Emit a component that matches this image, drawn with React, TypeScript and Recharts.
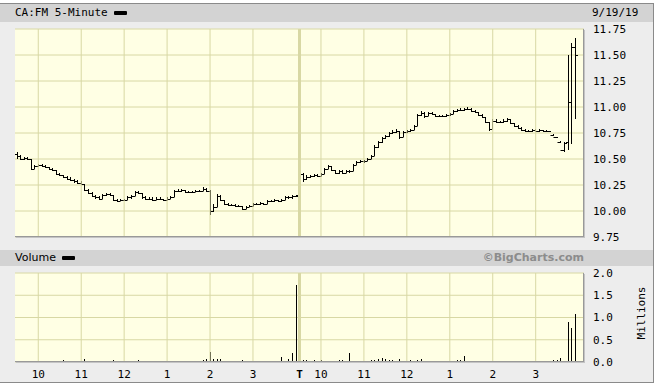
import { ComposedChart, BarChart, Bar, XAxis, YAxis, CartesianGrid, ReferenceLine } from 'recharts';

// colours / fonts
const GRID = '#d8d8a4';
const PLOT_BG = '#ffffe4';
const FRAME_BG = '#ededed';
const BAND_BG = '#d3d3d3';
const MONO = '"DejaVu Sans Mono", monospace';
const SANS = '"DejaVu Sans", sans-serif';

// 5-minute OHLC, two sessions (slots 0-78 = day 1 9:30-4:00, 79-157 = day 2)
const opens = [
  10.55, 10.53, 10.5, 10.51, 10.5, 10.4, 10.43, 10.44, 10.43, 10.42, 10.4, 10.39,
  10.36, 10.35, 10.33, 10.31, 10.3, 10.29, 10.27, 10.26, 10.2, 10.17, 10.14, 10.13,
  10.12, 10.15, 10.16, 10.15, 10.11, 10.1, 10.11, 10.11, 10.13, 10.14, 10.18, 10.17,
  10.13, 10.12, 10.12, 10.11, 10.12, 10.12, 10.11, 10.12, 10.13, 10.19, 10.19, 10.2,
  10.18, 10.18, 10.18, 10.19, 10.19, 10.21, 10.19, 10.0, 10.04, 10.14, 10.11, 10.07,
  10.06, 10.06, 10.05, 10.05, 10.02, 10.04, 10.05, 10.07, 10.07, 10.08, 10.07, 10.1,
  10.1, 10.11, 10.1, 10.11, 10.13, 10.13, 10.14,
  10.15, 10.36, 10.31, 10.33, 10.34, 10.35, 10.34, 10.36, 10.4, 10.43, 10.39, 10.37,
  10.38, 10.37, 10.38, 10.38, 10.44, 10.47, 10.48, 10.48, 10.5, 10.53, 10.62, 10.66,
  10.7, 10.72, 10.75, 10.76, 10.77, 10.71, 10.76, 10.77, 10.78, 10.82, 10.92, 10.94,
  10.91, 10.94, 10.93, 10.91, 10.91, 10.91, 10.92, 10.93, 10.96, 10.97, 10.97, 10.98,
  10.98, 10.96, 10.95, 10.92, 10.9, 10.86, 10.79, 10.87, 10.86, 10.86, 10.87, 10.88,
  10.85, 10.82, 10.8, 10.78, 10.77, 10.77, 10.78, 10.77, 10.78, 10.77, 10.77, 10.73,
  10.71, 10.66, 10.59, 10.66, 11.05, 11.58,
];
const highs = [
  10.57, 10.54, 10.52, 10.52, 10.5, 10.44, 10.45, 10.45, 10.44, 10.42, 10.41, 10.39,
  10.37, 10.35, 10.34, 10.33, 10.31, 10.3, 10.29, 10.26, 10.21, 10.18, 10.15, 10.14,
  10.16, 10.17, 10.17, 10.15, 10.12, 10.12, 10.12, 10.14, 10.15, 10.19, 10.19, 10.17,
  10.14, 10.13, 10.13, 10.13, 10.13, 10.12, 10.13, 10.14, 10.2, 10.21, 10.21, 10.2,
  10.19, 10.19, 10.2, 10.2, 10.23, 10.22, 10.2, 10.07, 10.16, 10.15, 10.11, 10.08,
  10.07, 10.07, 10.06, 10.05, 10.05, 10.06, 10.08, 10.08, 10.09, 10.08, 10.11, 10.11,
  10.12, 10.11, 10.12, 10.14, 10.14, 10.15, 10.15,
  10.39, 10.37, 10.35, 10.35, 10.36, 10.36, 10.37, 10.41, 10.44, 10.43, 10.39, 10.39,
  10.39, 10.39, 10.39, 10.45, 10.48, 10.49, 10.49, 10.51, 10.54, 10.63, 10.67, 10.71,
  10.73, 10.76, 10.78, 10.79, 10.77, 10.77, 10.78, 10.79, 10.83, 10.93, 10.96, 10.95,
  10.95, 10.95, 10.93, 10.92, 10.92, 10.93, 10.94, 10.97, 10.98, 10.99, 10.99, 11.0,
  10.99, 10.97, 10.95, 10.93, 10.9, 10.86, 10.88, 10.88, 10.87, 10.88, 10.89, 10.88,
  10.85, 10.83, 10.81, 10.79, 10.78, 10.79, 10.79, 10.79, 10.78, 10.78, 10.77, 10.74,
  10.71, 10.67, 10.66, 11.5, 11.62, 11.66,
];
const lows = [
  10.5, 10.49, 10.49, 10.49, 10.39, 10.4, 10.42, 10.42, 10.41, 10.39, 10.38, 10.35,
  10.34, 10.32, 10.3, 10.29, 10.27, 10.26, 10.25, 10.19, 10.16, 10.13, 10.12, 10.11,
  10.12, 10.14, 10.14, 10.1, 10.09, 10.1, 10.1, 10.11, 10.12, 10.14, 10.16, 10.12,
  10.11, 10.11, 10.1, 10.11, 10.11, 10.1, 10.11, 10.12, 10.13, 10.18, 10.18, 10.17,
  10.17, 10.17, 10.18, 10.18, 10.19, 10.18, 9.96, 9.99, 10.04, 10.1, 10.06, 10.05,
  10.05, 10.04, 10.04, 10.01, 10.02, 10.04, 10.05, 10.06, 10.06, 10.06, 10.07, 10.09,
  10.09, 10.09, 10.09, 10.11, 10.12, 10.12, 10.13,
  10.14, 10.28, 10.3, 10.32, 10.33, 10.33, 10.34, 10.36, 10.4, 10.38, 10.36, 10.36,
  10.36, 10.37, 10.37, 10.38, 10.44, 10.46, 10.46, 10.48, 10.5, 10.53, 10.61, 10.65,
  10.69, 10.71, 10.74, 10.75, 10.69, 10.71, 10.75, 10.76, 10.78, 10.82, 10.91, 10.89,
  10.91, 10.92, 10.9, 10.9, 10.9, 10.9, 10.91, 10.93, 10.95, 10.96, 10.96, 10.97,
  10.95, 10.94, 10.91, 10.89, 10.85, 10.77, 10.79, 10.85, 10.85, 10.85, 10.86, 10.84,
  10.81, 10.79, 10.77, 10.76, 10.76, 10.76, 10.76, 10.76, 10.76, 10.76, 10.76, 10.72,
  10.7, 10.65, 10.57, 10.59, 10.64, 10.88, 11.42,
];
const closes = [
  10.53, 10.5, 10.51, 10.5, 10.4, 10.43, 10.44, 10.43, 10.42, 10.4, 10.39, 10.36,
  10.35, 10.33, 10.31, 10.3, 10.29, 10.27, 10.26, 10.2, 10.17, 10.14, 10.13, 10.12,
  10.15, 10.16, 10.15, 10.11, 10.1, 10.11, 10.11, 10.13, 10.14, 10.18, 10.17, 10.13,
  10.12, 10.12, 10.11, 10.12, 10.12, 10.11, 10.12, 10.13, 10.19, 10.19, 10.2, 10.18,
  10.18, 10.18, 10.19, 10.19, 10.21, 10.19, 10.0, 10.04, 10.14, 10.11, 10.07, 10.06,
  10.06, 10.05, 10.05, 10.02, 10.04, 10.05, 10.07, 10.07, 10.08, 10.07, 10.1, 10.1,
  10.11, 10.1, 10.11, 10.13, 10.13, 10.14, 10.14,
  10.36, 10.31, 10.33, 10.34, 10.35, 10.34, 10.36, 10.4, 10.43, 10.39, 10.37, 10.38,
  10.37, 10.38, 10.38, 10.44, 10.47, 10.48, 10.48, 10.5, 10.53, 10.62, 10.66, 10.7,
  10.72, 10.75, 10.76, 10.77, 10.71, 10.76, 10.77, 10.78, 10.82, 10.92, 10.94, 10.91,
  10.94, 10.93, 10.91, 10.91, 10.91, 10.92, 10.93, 10.96, 10.97, 10.97, 10.98, 10.98,
  10.96, 10.95, 10.92, 10.9, 10.86, 10.79, 10.87, 10.86, 10.86, 10.87, 10.88, 10.85,
  10.82, 10.8, 10.78, 10.77, 10.77, 10.78, 10.77, 10.78, 10.77, 10.77, 10.73, 10.71,
  10.66, 10.59, 10.65, 11.05, 11.58, 11.5,
];
// volume in millions
const volumes = [
  0, 0, 0, 0, 0.03, 0.02, 0.03, 0, 0, 0.03, 0, 0,
  0, 0.04, 0, 0, 0.03, 0, 0, 0.06, 0.03, 0.02, 0.02, 0,
  0, 0, 0, 0.05, 0, 0, 0.03, 0, 0, 0, 0.05, 0,
  0, 0, 0, 0, 0, 0, 0, 0.03, 0, 0, 0, 0,
  0, 0.03, 0, 0, 0.04, 0.07, 0.23, 0.06, 0.07, 0.07, 0, 0.03,
  0.03, 0, 0, 0.05, 0.03, 0, 0.03, 0, 0.03, 0.02, 0.03, 0,
  0.03, 0, 0.12, 0, 0.06, 0.2, 1.73,
  0.08, 0.05, 0.04, 0.03, 0.04, 0, 0.05, 0.03, 0.03, 0.03, 0, 0.04,
  0.04, 0, 0.21, 0.03, 0, 0, 0, 0.03, 0.04, 0.05, 0.07, 0.08,
  0.06, 0.04, 0.05, 0.03, 0.06, 0.03, 0, 0.04, 0, 0.05, 0.06, 0.03,
  0.03, 0.03, 0.03, 0.03, 0.03, 0, 0, 0, 0.04, 0.05, 0.13, 0.03,
  0.02, 0.03, 0.02, 0.03, 0.02, 0, 0, 0, 0, 0, 0, 0.02,
  0, 0, 0.02, 0, 0, 0, 0, 0, 0, 0, 0.03, 0.04,
  0.04, 0.1, 0, 0.91, 0.76, 1.08, 0, 0,
];

const hourSlots = [6, 18, 30, 42, 54, 66, 79, 85, 97, 109, 121, 133, 145];
const hourLabels = ['10', '11', '12', '1', '2', '3', 'T', '10', '11', '12', '1', '2', '3'];
const priceTicks = [9.75, 10, 10.25, 10.5, 10.75, 11, 11.25, 11.5, 11.75];
const volumeTicks = [0, 0.5, 1, 1.5, 2];
const DAY_BREAK = 79;

const rows = volumes.map((v, i) => ({
  slot: i,
  open: opens[i] ?? null,
  high: highs[i] ?? null,
  low: lows[i] ?? null,
  close: closes[i] ?? null,
  volume: v,
}));

const OhlcBar = (props: any) => {
  const { x, y, width, height, payload } = props;
  if (!payload || payload.high == null) return <g />;
  const top = Math.min(y, y + height);
  const h = Math.abs(height);
  const cx = Math.round(x + width / 2) + 0.5;
  const span = payload.high - payload.low;
  const py = (v: number) => Math.round(span > 0 ? top + ((payload.high - v) / span) * h : top) + 0.5;
  return (
    <g stroke="#000" strokeWidth={1}>
      <line x1={cx} x2={cx} y1={Math.round(top)} y2={Math.round(top + Math.max(h, 1))} />
      <line x1={cx - 2.5} x2={cx} y1={py(payload.open)} y2={py(payload.open)} />
      <line x1={cx} x2={cx + 2.5} y1={py(payload.close)} y2={py(payload.close)} />
    </g>
  );
};

const VolumeBar = (props: any) => {
  const { x, y, width, height } = props;
  if (!height || height <= 0) return <g />;
  const cx = Math.round(x + width / 2);
  const top = Math.round(y);
  return <rect x={cx} y={top} width={1} height={Math.max(1, Math.round(y + height) - top)} fill="#000" />;
};

const HourTick = (props: any) => {
  const { x, y, payload } = props;
  const label = hourLabels[hourSlots.indexOf(payload.value)];
  return (
    <text x={x} y={y} dy="0.71em" textAnchor="middle" fill="#000" fontSize={11} fontFamily={MONO} fontWeight={label === 'T' ? 'bold' : 'normal'}>
      {label}
    </text>
  );
};

const hourLines = hourSlots.map((s) => (
  <ReferenceLine key={s} x={s} stroke={GRID} strokeWidth={s === DAY_BREAK ? 3 : 1} />
));

const legendBar = { display: 'inline-block', width: 13, height: 4, background: '#000', borderRadius: 1, marginLeft: 6, verticalAlign: 'middle' };
const plotEdge = { position: 'absolute' as const, borderRight: '1px solid #999', borderBottom: '1px solid #999', boxShadow: '1px 1px 0 #c4c4c4', pointerEvents: 'none' as const };

export default function App() {
  return (
    <div style={{ position: 'absolute', left: 0, top: 0, width: 659, height: 385, background: '#fff', overflow: 'hidden' }}>
      {/* frame */}
      <div style={{ position: 'absolute', left: 0, top: 3, width: 653, height: 378, background: FRAME_BG, borderTop: '1px solid #8a8a8a', borderRight: '1px solid #8a8a8a', borderBottom: '1px solid #8a8a8a' }} />
      <div style={{ position: 'absolute', left: 0, top: 4, width: 653, height: 18, background: BAND_BG }} />
      <div style={{ position: 'absolute', left: 15, top: 4, height: 18, lineHeight: '18px', fontSize: 11, fontFamily: MONO, color: '#000' }}>
        CA:FM 5-Minute<span style={legendBar} />
      </div>
      <div style={{ position: 'absolute', left: 592, top: 4, height: 18, lineHeight: '18px', fontSize: 11, fontFamily: MONO, color: '#000' }}>9/19/19</div>

      <div style={{ position: 'absolute', left: 0, top: 250, width: 653, height: 16, background: BAND_BG }} />
      <div style={{ position: 'absolute', left: 15, top: 250, height: 16, lineHeight: '16px', fontSize: 11, fontFamily: SANS, color: '#000' }}>
        Volume<span style={legendBar} />
      </div>
      <div style={{ position: 'absolute', right: 659 - 584, top: 250, height: 16, lineHeight: '16px', fontSize: 11, fontFamily: SANS, fontWeight: 'bold', color: '#8c8c8c' }}>
        ©BigCharts.com
      </div>
      <div style={{ position: 'absolute', left: 641, top: 313, transform: 'translate(-50%, -50%) rotate(-90deg)', fontSize: 11, fontFamily: MONO, color: '#000', whiteSpace: 'nowrap' }}>
        Millions
      </div>

      {/* price panel */}
      <div style={{ position: 'absolute', left: 0, top: 0 }}>
        <ComposedChart width={659} height={250} data={rows} margin={{ top: 29, right: 15, left: 15, bottom: 13 }}>
          <CartesianGrid stroke={GRID} fill={PLOT_BG} vertical={false} />
          <XAxis dataKey="slot" type="category" ticks={hourSlots} interval={0} height={0} tick={false} axisLine={false} tickLine={false} />
          <YAxis
            orientation="right"
            width={60}
            domain={[9.75, 11.75]}
            ticks={priceTicks}
            interval={0}
            allowDataOverflow
            axisLine={false}
            tickLine={false}
            tickMargin={3}
            tickFormatter={(v: number) => v.toFixed(2)}
            tick={{ fill: '#000', fontSize: 11, fontFamily: MONO }}
          />
          {hourLines}
          <Bar
            dataKey={(d: any) => (d.high == null ? null : [d.low, d.high])}
            barSize={3}
            shape={OhlcBar}
            isAnimationActive={false}
          />
        </ComposedChart>
      </div>
      <div style={{ ...plotEdge, left: 15, top: 29, width: 568, height: 207 }} />

      {/* volume panel */}
      <div style={{ position: 'absolute', left: 0, top: 260 }}>
        <BarChart width={659} height={125} data={rows} margin={{ top: 13, right: 15, left: 15, bottom: 0 }}>
          <CartesianGrid stroke={GRID} fill={PLOT_BG} vertical={false} />
          <XAxis dataKey="slot" type="category" ticks={hourSlots} interval={0} height={23} axisLine={false} tickLine={false} tick={<HourTick />} />
          <YAxis
            orientation="right"
            width={60}
            domain={[0, 2]}
            ticks={volumeTicks}
            interval={0}
            axisLine={false}
            tickLine={false}
            tickMargin={3}
            tickFormatter={(v: number) => v.toFixed(1)}
            tick={{ fill: '#000', fontSize: 11, fontFamily: MONO }}
          />
          {hourLines}
          <Bar dataKey="volume" barSize={1} shape={VolumeBar} isAnimationActive={false} />
        </BarChart>
      </div>
      <div style={{ ...plotEdge, left: 15, top: 273, width: 568, height: 88 }} />
    </div>
  );
}
